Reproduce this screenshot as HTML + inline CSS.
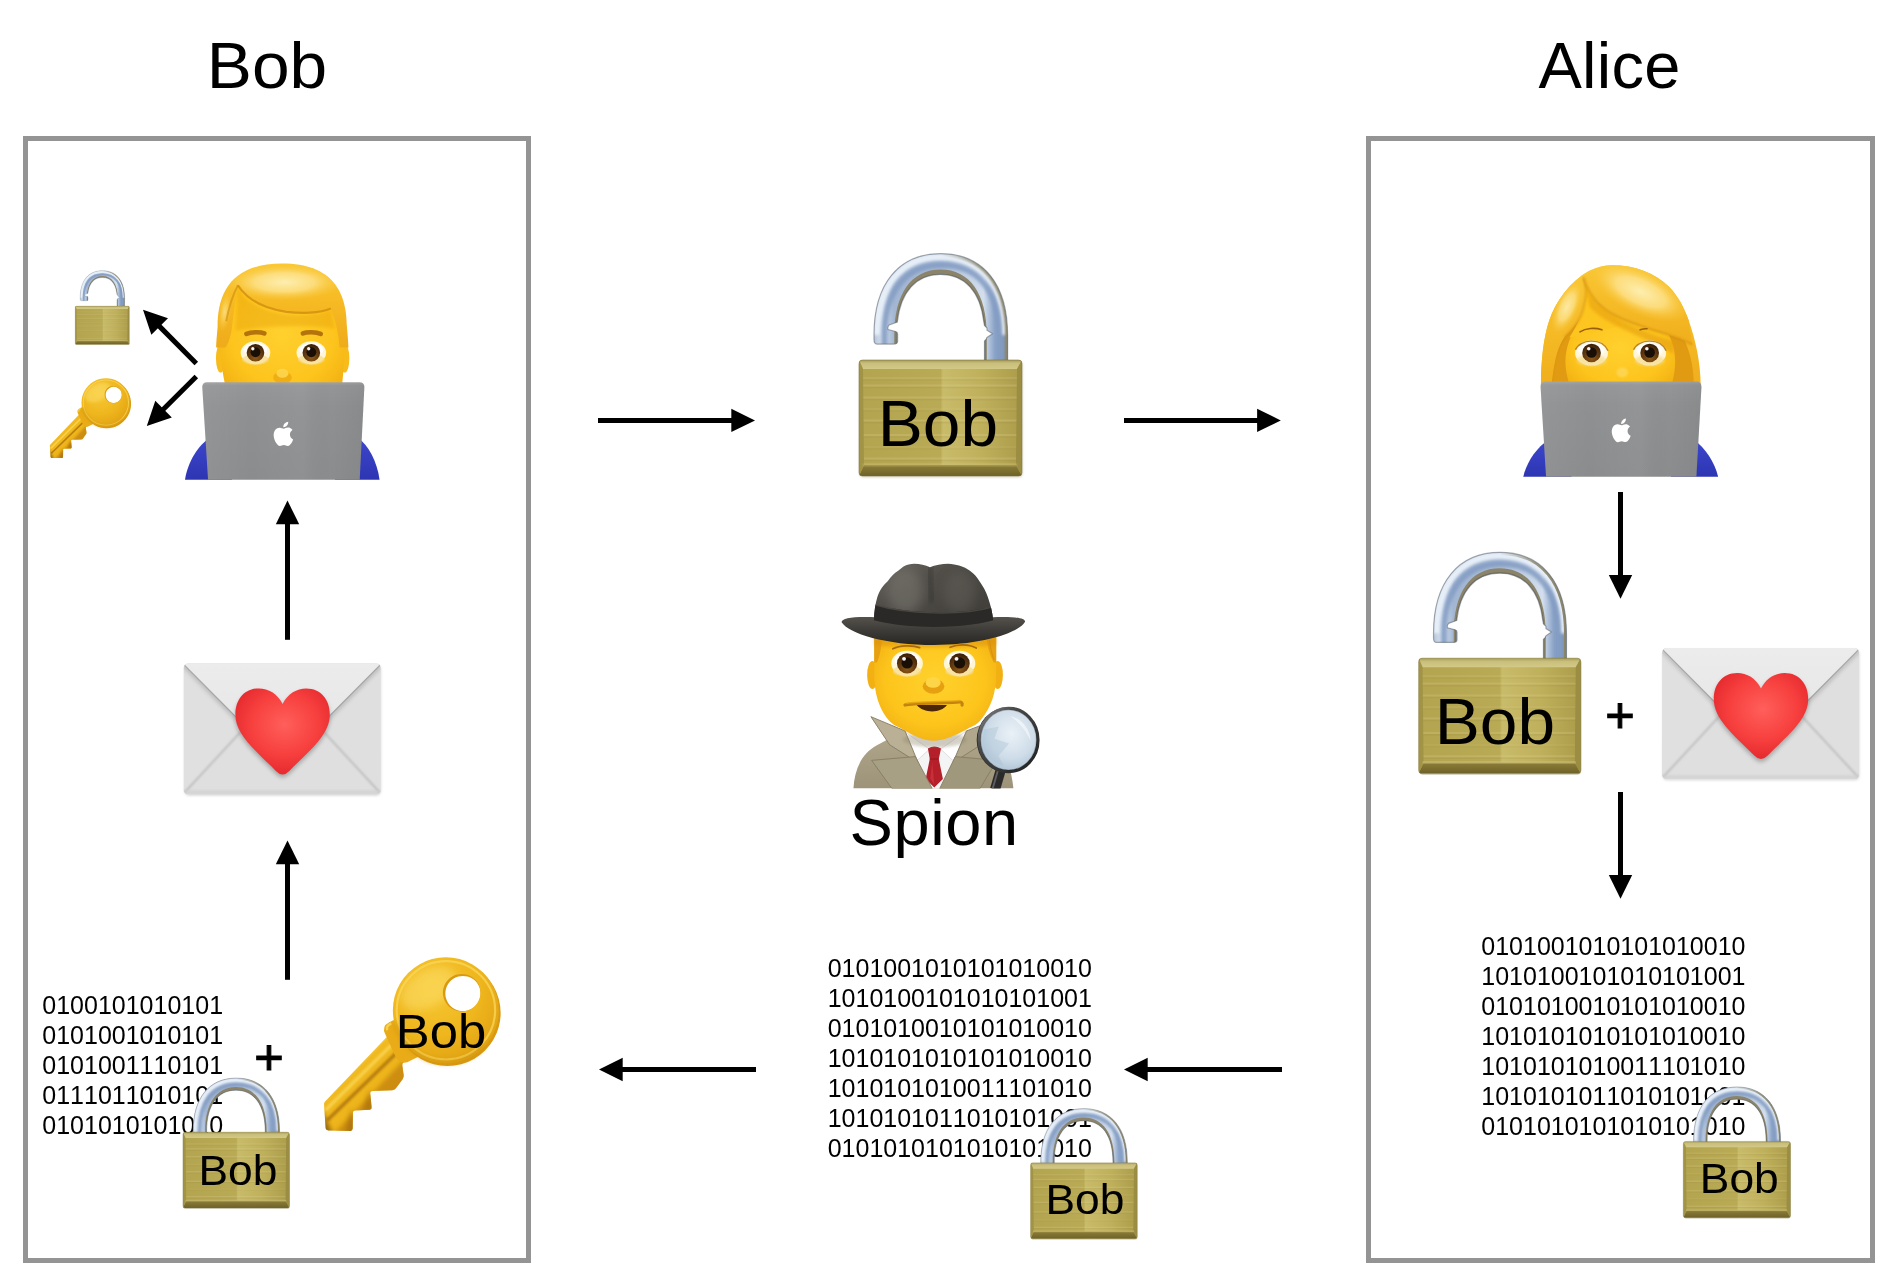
<!DOCTYPE html>
<html lang="de"><head><meta charset="utf-8"><title>Bob, Alice, Spion</title>
<style>
html,body{margin:0;padding:0;background:#fff;}
body{width:1898px;height:1280px;overflow:hidden;font-family:'Liberation Sans', Arial, Helvetica, sans-serif;}
svg{display:block;will-change:transform;}
svg text{font-family:'Liberation Sans', Arial, Helvetica, sans-serif;fill:#000;font-kerning:none;}
</style></head><body>
<svg width="1898" height="1280" viewBox="0 0 1898 1280">
<defs>

<linearGradient id="lkBody" x1="0" y1="0" x2="1" y2="0">
 <stop offset="0" stop-color="#b3a44f"/><stop offset="0.5" stop-color="#b9aa55"/>
 <stop offset="0.515" stop-color="#c8bb69"/><stop offset="0.75" stop-color="#bfb05c"/><stop offset="1" stop-color="#ab9c4a"/>
</linearGradient>
<linearGradient id="lkTop" x1="0" y1="0" x2="0" y2="1">
 <stop offset="0" stop-color="#a39a5c"/><stop offset="0.35" stop-color="#c9be7a"/><stop offset="1" stop-color="#d3c988"/>
</linearGradient>
<linearGradient id="lkBot" x1="0" y1="0" x2="0" y2="1">
 <stop offset="0" stop-color="#8c7e38"/><stop offset="1" stop-color="#6e6128"/>
</linearGradient>
<linearGradient id="lkSh" x1="0" y1="0" x2="1" y2="0">
 <stop offset="0" stop-color="#b4c3d8"/><stop offset="0.06" stop-color="#dbe5f1"/><stop offset="0.15" stop-color="#a3b7d3"/>
 <stop offset="0.5" stop-color="#a9bcd7"/><stop offset="0.82" stop-color="#d3dfee"/><stop offset="0.9" stop-color="#8ea6c9"/><stop offset="1" stop-color="#7b93b6"/>
</linearGradient>
<linearGradient id="lkEdge" x1="0" y1="0" x2="1" y2="0">
 <stop offset="0" stop-color="#8a8468" stop-opacity="0"/><stop offset="0.55" stop-color="#8a8468" stop-opacity=".85"/><stop offset="1" stop-color="#8a8468" stop-opacity="1"/>
</linearGradient>
<filter id="lkBl" x="-20%" y="-20%" width="140%" height="140%"><feGaussianBlur stdDeviation="1.6"/></filter>
<filter id="lkBl3" x="-20%" y="-20%" width="140%" height="140%"><feGaussianBlur stdDeviation="0.5"/></filter>
<filter id="lkBl2" x="-20%" y="-20%" width="140%" height="140%"><feGaussianBlur stdDeviation="0.8"/></filter>


<radialGradient id="skin" cx="0.5" cy="0.55" r="0.6">
 <stop offset="0" stop-color="#ffd02e"/><stop offset="0.7" stop-color="#fdc41d"/><stop offset="1" stop-color="#f3b313"/>
</radialGradient>
<linearGradient id="hairM" x1="0" y1="0" x2="0" y2="1">
 <stop offset="0" stop-color="#fac832"/><stop offset="0.45" stop-color="#f6ba24"/><stop offset="1" stop-color="#efab1a"/>
</linearGradient>
<linearGradient id="hairW" x1="0" y1="0" x2="0" y2="1">
 <stop offset="0" stop-color="#f9c735"/><stop offset="0.45" stop-color="#f6bc28"/><stop offset="1" stop-color="#f0ae1c"/>
</linearGradient>
<radialGradient id="hairHiW" cx="0.5" cy="0.5" r="0.5">
 <stop offset="0" stop-color="#fdeaa2" stop-opacity="1"/><stop offset="0.4" stop-color="#fcdc6e" stop-opacity=".8"/><stop offset="1" stop-color="#f9c73a" stop-opacity="0"/>
</radialGradient>
<radialGradient id="hairHiM" cx="0.5" cy="0.5" r="0.5">
 <stop offset="0" stop-color="#fdeeb0" stop-opacity="1"/><stop offset="0.5" stop-color="#fde28a" stop-opacity=".85"/><stop offset="1" stop-color="#f9c73a" stop-opacity="0"/>
</radialGradient>
<radialGradient id="hairHi" cx="0.5" cy="0.5" r="0.5">
 <stop offset="0" stop-color="#fbd45a" stop-opacity=".95"/><stop offset="1" stop-color="#f9c73a" stop-opacity="0"/>
</radialGradient>
<linearGradient id="lapG" x1="0" y1="0" x2="0" y2="1">
 <stop offset="0" stop-color="#a2a3a4"/><stop offset="0.035" stop-color="#949596"/><stop offset="0.25" stop-color="#8f9091"/><stop offset="1" stop-color="#8b8c8d"/>
</linearGradient>
<linearGradient id="lapS" x1="0" y1="0" x2="1" y2="0">
 <stop offset="0" stop-color="#fff" stop-opacity=".05"/><stop offset="0.3" stop-color="#fff" stop-opacity="0"/><stop offset="0.62" stop-color="#fff" stop-opacity=".04"/><stop offset="0.8" stop-color="#000" stop-opacity=".0"/><stop offset="1" stop-color="#000" stop-opacity=".04"/>
</linearGradient>
<linearGradient id="shirtB" x1="0" y1="0" x2="0" y2="1">
 <stop offset="0" stop-color="#3d47cc"/><stop offset="1" stop-color="#2d35b2"/>
</linearGradient>
<radialGradient id="irisG" cx="0.5" cy="0.78" r="0.75">
 <stop offset="0" stop-color="#8f5a18"/><stop offset="0.45" stop-color="#6a3f11"/><stop offset="1" stop-color="#3a2009"/>
</radialGradient>
<filter id="pBl" x="-30%" y="-30%" width="160%" height="160%"><feGaussianBlur stdDeviation="9"/></filter>
<filter id="pBl2" x="-30%" y="-30%" width="160%" height="160%"><feGaussianBlur stdDeviation="4"/></filter>


<linearGradient id="envG" x1="0" y1="0" x2="0" y2="1">
 <stop offset="0" stop-color="#e8e8e8"/><stop offset="0.5" stop-color="#e2e2e2"/><stop offset="1" stop-color="#dcdcdc"/>
</linearGradient>
<linearGradient id="envFlap" x1="0" y1="0" x2="0" y2="1">
 <stop offset="0" stop-color="#ececec"/><stop offset="1" stop-color="#e4e4e4"/>
</linearGradient>
<radialGradient id="heartG" cx="0.52" cy="0.42" r="0.62">
 <stop offset="0" stop-color="#ff5f5b"/><stop offset="0.55" stop-color="#f7413f"/><stop offset="1" stop-color="#e3262c"/>
</radialGradient>
<filter id="tBl" x="-30%" y="-30%" width="160%" height="160%"><feGaussianBlur stdDeviation="2.2"/></filter>
<filter id="tBl1" x="-30%" y="-30%" width="160%" height="160%"><feGaussianBlur stdDeviation="0.9"/></filter>
<filter id="tBl4" x="-30%" y="-30%" width="160%" height="160%"><feGaussianBlur stdDeviation="4"/></filter>
<linearGradient id="keyG" x1="0" y1="0" x2="1" y2="1">
 <stop offset="0" stop-color="#f6c52e"/><stop offset="0.5" stop-color="#eeb51c"/><stop offset="1" stop-color="#e0a214"/>
</linearGradient>
<radialGradient id="keyHead" cx="0.38" cy="0.3" r="0.8">
 <stop offset="0" stop-color="#f7c936"/><stop offset="0.55" stop-color="#efb61d"/><stop offset="1" stop-color="#dd9e12"/>
</radialGradient>


<radialGradient id="spSkin" cx="0.5" cy="0.45" r="0.62">
 <stop offset="0" stop-color="#ffd12c"/><stop offset="0.65" stop-color="#fdc51c"/><stop offset="1" stop-color="#f0ae12"/>
</radialGradient>
<linearGradient id="spCrown" x1="0" y1="0" x2="1" y2="1">
 <stop offset="0" stop-color="#6b6861"/><stop offset="0.35" stop-color="#514e49"/><stop offset="1" stop-color="#3c3a36"/>
</linearGradient>
<linearGradient id="spBrim" x1="0" y1="0" x2="0" y2="1">
 <stop offset="0" stop-color="#55524d"/><stop offset="0.45" stop-color="#3f3d39"/><stop offset="1" stop-color="#262523"/>
</linearGradient>
<linearGradient id="spCoat" x1="0" y1="0" x2="0" y2="1">
 <stop offset="0" stop-color="#b0a78c"/><stop offset="1" stop-color="#9c9378"/>
</linearGradient>
<radialGradient id="spGlass" cx="0.55" cy="0.4" r="0.65">
 <stop offset="0" stop-color="#eaf1f7"/><stop offset="0.6" stop-color="#cfdde9"/><stop offset="1" stop-color="#a9bfd2"/>
</radialGradient>
<linearGradient id="spRim" x1="0" y1="0" x2="1" y2="1">
 <stop offset="0" stop-color="#8a8a8a"/><stop offset="0.3" stop-color="#4a4a4a"/><stop offset="1" stop-color="#1f1f1f"/>
</linearGradient>
<filter id="sBl" x="-30%" y="-30%" width="160%" height="160%"><feGaussianBlur stdDeviation="8"/></filter>
 <filter id="sBl3" x="-50%" y="-50%" width="200%" height="200%"><feGaussianBlur stdDeviation="28"/></filter>
<clipPath id="spClip"><rect x="0" y="0" width="1200" height="1245"/></clipPath>
<filter id="sBl2" x="-30%" y="-30%" width="160%" height="160%"><feGaussianBlur stdDeviation="3.5"/></filter>

</defs>
<rect x="25.5" y="138.5" width="503" height="1122" fill="none" stroke="#949494" stroke-width="5"/>
<rect x="1368.5" y="138.5" width="504" height="1122" fill="none" stroke="#949494" stroke-width="5"/>
<text transform="translate(206.85,87.7) scale(1.041,1)" x="0" y="0" font-size="65">Bob</text>
<text x="1538.4" y="87.7" font-size="65" text-anchor="start" letter-spacing="0.3">Alice</text>
<text x="849.5" y="845.3" font-size="65" text-anchor="start" letter-spacing="0.6">Spion</text>
<line x1="598.00" y1="420.40" x2="733.30" y2="420.40" stroke="#000" stroke-width="5"/>
<polygon points="755.00,420.40 731.30,432.10 731.30,408.70" fill="#000"/>
<line x1="1124.00" y1="420.40" x2="1259.10" y2="420.40" stroke="#000" stroke-width="5"/>
<polygon points="1280.80,420.40 1257.10,432.10 1257.10,408.70" fill="#000"/>
<line x1="756.00" y1="1069.50" x2="620.70" y2="1069.50" stroke="#000" stroke-width="5"/>
<polygon points="599.00,1069.50 622.70,1057.80 622.70,1081.20" fill="#000"/>
<line x1="1282.00" y1="1069.50" x2="1145.70" y2="1069.50" stroke="#000" stroke-width="5"/>
<polygon points="1124.00,1069.50 1147.70,1057.80 1147.70,1081.20" fill="#000"/>
<line x1="287.50" y1="639.80" x2="287.50" y2="522.30" stroke="#000" stroke-width="5"/>
<polygon points="287.50,500.60 299.20,524.30 275.80,524.30" fill="#000"/>
<line x1="287.50" y1="979.80" x2="287.50" y2="862.30" stroke="#000" stroke-width="5"/>
<polygon points="287.50,840.60 299.20,864.30 275.80,864.30" fill="#000"/>
<line x1="1620.50" y1="492.00" x2="1620.50" y2="577.10" stroke="#000" stroke-width="5"/>
<polygon points="1620.50,598.80 1608.80,575.10 1632.20,575.10" fill="#000"/>
<line x1="1620.50" y1="792.00" x2="1620.50" y2="877.10" stroke="#000" stroke-width="5"/>
<polygon points="1620.50,898.80 1608.80,875.10 1632.20,875.10" fill="#000"/>
<line x1="196.30" y1="363.60" x2="158.26" y2="325.13" stroke="#000" stroke-width="5"/>
<polygon points="143.00,309.70 167.98,318.33 151.35,334.78" fill="#000"/>
<line x1="196.30" y1="376.40" x2="162.14" y2="410.56" stroke="#000" stroke-width="5"/>
<polygon points="146.80,425.90 155.29,400.87 171.83,417.41" fill="#000"/>
<text x="1481.3" y="955" font-size="25" text-anchor="start" >0101001010101010010</text>
<text x="827.7" y="977.4" font-size="25" text-anchor="start" >0101001010101010010</text>
<text x="1481.3" y="985" font-size="25" text-anchor="start" >1010100101010101001</text>
<text x="827.7" y="1007.4" font-size="25" text-anchor="start" >1010100101010101001</text>
<text x="1481.3" y="1015" font-size="25" text-anchor="start" >0101010010101010010</text>
<text x="827.7" y="1037.4" font-size="25" text-anchor="start" >0101010010101010010</text>
<text x="1481.3" y="1045" font-size="25" text-anchor="start" >1010101010101010010</text>
<text x="827.7" y="1067.4" font-size="25" text-anchor="start" >1010101010101010010</text>
<text x="1481.3" y="1075" font-size="25" text-anchor="start" >1010101010011101010</text>
<text x="827.7" y="1097.4" font-size="25" text-anchor="start" >1010101010011101010</text>
<text x="1481.3" y="1105" font-size="25" text-anchor="start" >1010101011010101001</text>
<text x="827.7" y="1127.4" font-size="25" text-anchor="start" >1010101011010101001</text>
<text x="1481.3" y="1135" font-size="25" text-anchor="start" >0101010101010101010</text>
<text x="827.7" y="1157.4" font-size="25" text-anchor="start" >0101010101010101010</text>
<text x="42.3" y="1014" font-size="25" text-anchor="start" >0100101010101</text>
<text x="42.3" y="1044" font-size="25" text-anchor="start" >0101001010101</text>
<text x="42.3" y="1074" font-size="25" text-anchor="start" >0101001110101</text>
<text x="42.3" y="1104" font-size="25" text-anchor="start" >0111011010101</text>
<text x="42.3" y="1134" font-size="25" text-anchor="start" >0101010101010</text>
<text x="1620" y="731.6" font-size="50.5" text-anchor="middle" stroke="#000" stroke-width="1.1">+</text>
<text x="269" y="1073.6" font-size="50.5" text-anchor="middle" stroke="#000" stroke-width="1.1">+</text>
<g transform="translate(170,250) scale(0.18745)">
<path d="M 215,1000 C 150,1040 95,1130 80,1225 L 330,1225 L 330,1000 Z" fill="url(#shirtB)"/>
<path d="M 1000,1000 C 1060,1040 1105,1130 1118,1225 L 880,1225 L 880,1000 Z" fill="url(#shirtB)"/>
<ellipse cx="270" cy="578" rx="25" ry="76" fill="#f7bb1a"/>
<ellipse cx="932" cy="578" rx="25" ry="76" fill="#f7bb1a"/>
<path d="M 300,740 C 274,650 268,540 266,410 C 262,230 330,76 598,76 C 868,76 936,230 932,410 C 930,540 928,650 916,740 Z" fill="url(#skin)"/>
<path d="M 365,215 C 420,290 520,335 640,345 C 740,352 820,340 858,318 L 880,420 C 780,400 560,400 350,430 Z" fill="#e9a60f" opacity=".45" filter="url(#pBl)"/>
<path d="M 246,520 C 248,470 252,440 254,410 C 254,228 328,72 598,72 C 870,72 944,228 944,410 C 946,440 950,470 952,520 L 905,520 C 900,450 885,380 858,312 C 800,338 700,340 620,330 C 500,312 410,262 362,188 C 345,270 338,350 330,420 C 322,470 310,500 296,520 Z" fill="url(#hairM)"/>
<clipPath id="mhair"><path d="M 246,520 C 248,470 252,440 254,410 C 254,228 328,72 598,72 C 870,72 944,228 944,410 C 946,440 950,470 952,520 L 905,520 C 900,450 885,380 858,312 C 800,338 700,340 620,330 C 500,312 410,262 362,188 C 345,270 338,350 330,420 C 322,470 310,500 296,520 Z"/></clipPath>
<g clip-path="url(#mhair)">
<ellipse cx="610" cy="172" rx="320" ry="100" fill="url(#hairHiM)"/>
<ellipse cx="292" cy="330" rx="34" ry="110" fill="url(#hairHiW)" opacity=".7" transform="rotate(8 292 330)"/>
</g>
<path d="M 362,188 C 410,262 500,312 620,330 C 700,340 800,338 858,312" fill="none" stroke="#cf8a0c" stroke-width="12" opacity=".75" filter="url(#pBl2)"/>
<path d="M 362,188 C 340,230 315,300 300,380" fill="none" stroke="#cf8a0c" stroke-width="10" opacity=".6" filter="url(#pBl2)"/>
<path d="M 408,447 C 432,437 482,436 503,445" fill="none" stroke="#b5730c" stroke-width="25" stroke-linecap="round"/>
<path d="M 709,445 C 730,436 780,437 804,447" fill="none" stroke="#b5730c" stroke-width="25" stroke-linecap="round"/>
<ellipse cx="456" cy="548" rx="79" ry="61" fill="#fff6d8"/>
<ellipse cx="456" cy="532.75" rx="63.2" ry="36.6" fill="#ffffff" opacity=".9" filter="url(#pBl2)"/>
<ellipse cx="456" cy="584.6" rx="71.10000000000001" ry="27.45" fill="#f6dc8c" opacity=".7" filter="url(#pBl2)"/>
<circle cx="456" cy="548" r="47" fill="url(#irisG)"/>
<circle cx="456" cy="545.6" r="26.3" fill="#1a0f06"/>
<circle cx="441.9" cy="526.9" r="8.9" fill="#fff" opacity=".95"/>
<ellipse cx="754" cy="548" rx="79" ry="61" fill="#fff6d8"/>
<ellipse cx="754" cy="532.75" rx="63.2" ry="36.6" fill="#ffffff" opacity=".9" filter="url(#pBl2)"/>
<ellipse cx="754" cy="584.6" rx="71.10000000000001" ry="27.45" fill="#f6dc8c" opacity=".7" filter="url(#pBl2)"/>
<circle cx="754" cy="548" r="47" fill="url(#irisG)"/>
<circle cx="754" cy="545.6" r="26.3" fill="#1a0f06"/>
<circle cx="739.9" cy="526.9" r="8.9" fill="#fff" opacity=".95"/>
<ellipse cx="600" cy="680" rx="50" ry="34" fill="#eda511" opacity=".7" filter="url(#pBl2)"/>
<ellipse cx="600" cy="658" rx="32" ry="24" fill="#ffd650" opacity=".9" filter="url(#pBl2)"/>
<path d="M172,731 Q172,705 198,705 L1011,705 Q1037,705 1037,731 L1012,1225 L203,1225 Z" fill="url(#lapG)"/>
<path d="M172,731 Q172,705 198,705 L1011,705 Q1037,705 1037,731 L1012,1225 L203,1225 Z" fill="url(#lapS)"/>
<path transform="translate(564.84,915.89) scale(84.553)" d="M 0.70,0.245 C 0.755,0.18 0.79,0.09 0.78,0 C 0.70,0.005 0.605,0.055 0.55,0.12 C 0.50,0.18 0.455,0.27 0.47,0.355 C 0.555,0.36 0.645,0.31 0.70,0.245 Z M 0.785,0.37 C 0.66,0.36 0.555,0.44 0.495,0.44 C 0.435,0.44 0.34,0.375 0.24,0.377 C 0.11,0.38 -0.01,0.455 -0.075,0.57 C -0.21,0.805 -0.11,1.15 0.02,1.34 C 0.085,1.435 0.16,1.54 0.26,1.535 C 0.355,1.53 0.39,1.475 0.505,1.475 C 0.62,1.475 0.65,1.535 0.75,1.533 C 0.855,1.53 0.92,1.44 0.985,1.345 C 1.06,1.235 1.09,1.13 1.092,1.125 C 1.09,1.123 0.89,1.047 0.888,0.815 C 0.886,0.62 1.046,0.527 1.053,0.523 C 0.963,0.39 0.822,0.375 0.785,0.37 Z" fill="#fff"/>
</g>
<g transform="translate(1480,240) scale(0.20319)">
<path d="M 335,985 C 280,1020 230,1090 213,1165 L 450,1165 L 450,985 Z" fill="url(#shirtB)"/>
<path d="M 1055,985 C 1105,1020 1155,1090 1172,1165 L 940,1165 L 940,985 Z" fill="url(#shirtB)"/>
<path d="M 300,720 C 300,600 312,480 341,395 C 372,305 440,205 540,150 C 575,132 612,124 650,124 C 760,124 860,160 930,230 C 975,275 1005,335 1027,395 C 1060,490 1086,600 1086,720 Z" fill="url(#hairW)"/>
<path d="M 352,720 C 354,620 372,540 416,476 L 560,300 L 1000,480 C 1040,560 1052,640 1052,720 Z" fill="#e19b13"/>
<path d="M 352,720 C 354,620 372,540 416,476" fill="none" stroke="#c98509" stroke-width="8" opacity=".45" filter="url(#pBl2)"/>
<path d="M 445,720 C 420,655 412,590 430,525 C 450,450 500,380 560,340 L 700,300 C 830,330 925,420 950,520 C 968,590 962,650 940,720 Z" fill="url(#skin)"/>
<path d="M 511,185 C 530,260 580,320 635,355 L 700,420 L 440,480 C 480,420 515,330 520,280 Z" fill="#fdc51f"/>
<path d="M 520,230 C 560,330 700,420 960,500 L 950,560 C 800,470 620,420 540,330 Z" fill="#e39c0c" opacity=".55" filter="url(#pBl)"/>
<path d="M 511,185 C 522,230 524,255 520,280 C 515,315 508,345 497,372 C 485,400 470,420 451,441 C 440,455 428,466 416,476 C 385,520 365,590 352,720 L 300,720 C 300,600 312,480 341,395 C 372,305 440,205 540,150 Z" fill="url(#hairW)"/>
<path d="M 511,185 C 522,230 524,255 520,280 C 515,315 508,345 497,372 C 485,400 470,420 451,441 C 440,455 428,466 416,476" fill="none" stroke="#d28c0c" stroke-width="9" opacity=".6" filter="url(#pBl2)"/>
<path d="M 511,185 C 530,260 580,320 635,355 C 700,395 800,430 918,464 C 960,476 1000,492 1045,515 C 1038,470 1032,430 1027,395 C 1005,335 975,275 930,230 C 860,160 760,124 650,124 C 600,124 548,145 511,185 Z" fill="url(#hairW)"/>
<path d="M 511,185 C 530,260 580,320 635,355 C 700,395 800,430 918,464 C 960,476 1000,492 1045,515" fill="none" stroke="#d28c0c" stroke-width="10" opacity=".65" filter="url(#pBl2)"/>
<clipPath id="wfr"><path d="M 511,185 C 530,260 580,320 635,355 C 700,395 800,430 918,464 C 960,476 1000,492 1045,515 C 1038,470 1032,430 1027,395 C 1005,335 975,275 930,230 C 860,160 760,124 650,124 C 600,124 548,145 511,185 Z"/></clipPath>
<g clip-path="url(#wfr)"><ellipse cx="790" cy="255" rx="260" ry="112" fill="url(#hairHiM)" transform="rotate(25 790 255)"/></g>
<clipPath id="wlk"><path d="M 511,185 C 522,230 524,255 520,280 C 515,315 508,345 497,372 C 485,400 470,420 451,441 C 440,455 428,466 416,476 C 385,520 365,590 352,720 L 300,720 C 300,600 312,480 341,395 C 372,305 440,205 540,150 Z"/></clipPath>
<g clip-path="url(#wlk)"><ellipse cx="428" cy="330" rx="58" ry="140" fill="url(#hairHiM)" transform="rotate(24 428 330)" opacity=".9"/></g>
<path d="M 492,452 C 520,434 565,430 600,442" fill="none" stroke="#9a5f0c" stroke-width="8" stroke-linecap="round"/>
<path d="M 788,442 C 800,438 812,436 822,437" fill="none" stroke="#9a5f0c" stroke-width="8" stroke-linecap="round"/>
<ellipse cx="549" cy="556" rx="81" ry="62" fill="#fff6d8"/>
<ellipse cx="549" cy="540.5" rx="64.8" ry="37.199999999999996" fill="#ffffff" opacity=".9" filter="url(#pBl2)"/>
<ellipse cx="549" cy="593.2" rx="72.9" ry="27.900000000000002" fill="#f6dc8c" opacity=".7" filter="url(#pBl2)"/>
<circle cx="549" cy="556" r="46" fill="url(#irisG)"/>
<circle cx="549" cy="553.7" r="25.8" fill="#1a0f06"/>
<circle cx="535.2" cy="535.3" r="8.7" fill="#fff" opacity=".95"/>
<ellipse cx="835" cy="556" rx="81" ry="62" fill="#fff6d8"/>
<ellipse cx="835" cy="540.5" rx="64.8" ry="37.199999999999996" fill="#ffffff" opacity=".9" filter="url(#pBl2)"/>
<ellipse cx="835" cy="593.2" rx="72.9" ry="27.900000000000002" fill="#f6dc8c" opacity=".7" filter="url(#pBl2)"/>
<circle cx="835" cy="556" r="46" fill="url(#irisG)"/>
<circle cx="835" cy="553.7" r="25.8" fill="#1a0f06"/>
<circle cx="821.2" cy="535.3" r="8.7" fill="#fff" opacity=".95"/>
<path d="M 470,540 C 490,488 600,478 630,545" fill="none" stroke="#a5690e" stroke-width="7" opacity=".8"/>
<path d="M 756,540 C 776,488 886,478 916,545" fill="none" stroke="#a5690e" stroke-width="7" opacity=".8"/>
<ellipse cx="700" cy="652" rx="28" ry="24" fill="#ffd85a" opacity=".8" filter="url(#pBl2)"/>
<path d="M298,723 Q298,697 324,697 L1064,697 Q1090,697 1090,723 L1065,1165 L325,1165 Z" fill="url(#lapG)"/>
<path d="M298,723 Q298,697 324,697 L1064,697 Q1090,697 1090,723 L1065,1165 L325,1165 Z" fill="url(#lapS)"/>
<path transform="translate(659.09,878.78) scale(75.610)" d="M 0.70,0.245 C 0.755,0.18 0.79,0.09 0.78,0 C 0.70,0.005 0.605,0.055 0.55,0.12 C 0.50,0.18 0.455,0.27 0.47,0.355 C 0.555,0.36 0.645,0.31 0.70,0.245 Z M 0.785,0.37 C 0.66,0.36 0.555,0.44 0.495,0.44 C 0.435,0.44 0.34,0.375 0.24,0.377 C 0.11,0.38 -0.01,0.455 -0.075,0.57 C -0.21,0.805 -0.11,1.15 0.02,1.34 C 0.085,1.435 0.16,1.54 0.26,1.535 C 0.355,1.53 0.39,1.475 0.505,1.475 C 0.62,1.475 0.65,1.535 0.75,1.533 C 0.855,1.53 0.92,1.44 0.985,1.345 C 1.06,1.235 1.09,1.13 1.092,1.125 C 1.09,1.123 0.89,1.047 0.888,0.815 C 0.886,0.62 1.046,0.527 1.053,0.523 C 0.963,0.39 0.822,0.375 0.785,0.37 Z" fill="#fff"/>
</g>
<g transform="translate(830,555) scale(0.18755)" clip-path="url(#spClip)">
<path d="M 125,1245 C 130,1150 165,1060 250,1015 L 400,935 L 730,935 L 865,1005 C 935,1045 968,1140 978,1245 Z" fill="url(#spCoat)"/>
<path d="M 395,935 L 730,935 L 670,1110 L 600,1245 L 510,1245 L 450,1110 Z" fill="#f4f4f4"/>
<path d="M 395,940 L 530,1035 L 455,1105 Z" fill="#fff" stroke="#d5d5d5" stroke-width="4"/>
<path d="M 725,940 L 590,1035 L 660,1100 Z" fill="#fff" stroke="#d5d5d5" stroke-width="4"/>
<path d="M 522,1032 Q 556,1010 592,1032 L 580,1088 L 602,1195 L 556,1240 L 510,1195 L 532,1088 Z" fill="#b51f2a"/>
<path d="M 532,1088 L 580,1088" stroke="#8c1520" stroke-width="5"/>
<path d="M 545,1100 L 535,1190 L 556,1225 Z" fill="#d43a44" opacity=".6"/>
<path d="M 218,862 L 400,938 L 470,1108 L 318,1012 Z" fill="#b9b095" stroke="#877e63" stroke-width="5" stroke-linejoin="round"/>
<path d="M 222,1095 L 455,1075 L 545,1245 L 330,1245 Z" fill="#a8a084" stroke="#877e63" stroke-width="5" stroke-linejoin="round"/>
<path d="M 905,870 L 728,938 L 655,1108 L 800,1015 Z" fill="#b0a78c" stroke="#877e63" stroke-width="5" stroke-linejoin="round"/>
<path d="M 890,1095 L 668,1075 L 585,1245 L 800,1245 Z" fill="#a0987c" stroke="#877e63" stroke-width="5" stroke-linejoin="round"/>
<ellipse cx="560" cy="985" rx="170" ry="40" fill="#8a7e62" opacity=".35" filter="url(#sBl)"/>
<ellipse cx="226" cy="640" rx="28" ry="75" fill="#f2b013"/>
<ellipse cx="894" cy="640" rx="28" ry="75" fill="#f2b013"/>
<path d="M 236,400 L 236,640 C 236,740 262,812 301,867 C 328,903 352,912 384,928 C 440,962 500,991 552,991 C 604,991 672,962 732,928 C 764,912 790,903 814,867 C 855,812 886,740 886,640 L 886,400 Z" fill="url(#spSkin)"/>
<path d="M 236,420 L 280,420 C 276,480 268,530 252,570 L 236,575 Z" fill="#e6a012"/>
<path d="M 886,420 L 832,420 C 838,480 850,530 872,572 L 886,575 Z" fill="#e6a012"/>
<path d="M 850,440 C 854,490 862,530 876,560" fill="none" stroke="#c98509" stroke-width="5" opacity=".6"/>
<path d="M 236,430 L 886,430 L 886,480 C 700,500 420,500 236,480 Z" fill="#d98f0a" opacity=".45" filter="url(#sBl)"/>
<path d="M 335,500 C 372,482 440,480 478,494" fill="none" stroke="#a8690c" stroke-width="9" stroke-linecap="round"/>
<path d="M 640,492 C 682,474 740,474 780,496" fill="none" stroke="#a8690c" stroke-width="9" stroke-linecap="round"/>
<ellipse cx="411" cy="578" rx="84" ry="68" fill="#fff6d8"/>
<ellipse cx="411" cy="561.0" rx="67.2" ry="40.8" fill="#ffffff" opacity=".9" filter="url(#pBl2)"/>
<ellipse cx="411" cy="618.8" rx="75.60000000000001" ry="30.6" fill="#f6dc8c" opacity=".7" filter="url(#pBl2)"/>
<circle cx="411" cy="578" r="54" fill="url(#irisG)"/>
<circle cx="411" cy="575.3" r="30.2" fill="#1a0f06"/>
<circle cx="394.8" cy="553.7" r="10.3" fill="#fff" opacity=".95"/>
<ellipse cx="691" cy="578" rx="84" ry="68" fill="#fff6d8"/>
<ellipse cx="691" cy="561.0" rx="67.2" ry="40.8" fill="#ffffff" opacity=".9" filter="url(#pBl2)"/>
<ellipse cx="691" cy="618.8" rx="75.60000000000001" ry="30.6" fill="#f6dc8c" opacity=".7" filter="url(#pBl2)"/>
<circle cx="691" cy="578" r="54" fill="url(#irisG)"/>
<circle cx="691" cy="575.3" r="30.2" fill="#1a0f06"/>
<circle cx="674.8" cy="553.7" r="10.3" fill="#fff" opacity=".95"/>
<ellipse cx="552" cy="700" rx="58" ry="40" fill="#e59c0e" opacity=".9" filter="url(#sBl2)"/>
<ellipse cx="550" cy="680" rx="40" ry="28" fill="#ffd84c" opacity=".95" filter="url(#sBl2)"/>
<path d="M 462,800 C 500,846 590,846 624,800 Z" fill="#4a2606"/>
<path d="M 400,800 C 440,786 640,790 690,784 C 700,783 708,790 704,800" fill="none" stroke="#c5830f" stroke-width="17" stroke-linecap="round"/>
<path d="M 410,790 C 470,780 640,782 695,776" fill="none" stroke="#e9a915" stroke-width="8" stroke-linecap="round" opacity=".8"/>
<path d="M 62,358 C 60,336 130,326 245,332 L 865,332 C 975,326 1042,336 1040,356 C 1005,418 800,480 555,480 C 300,480 98,418 62,358 Z" fill="url(#spBrim)"/>
<path d="M 234,348 C 236,300 242,260 252,225 C 266,185 285,160 308,140 C 325,115 342,98 364,84 C 385,65 400,52 420,50 C 460,42 500,52 533,65 C 570,52 620,42 662,50 C 700,55 725,68 746,84 C 770,100 785,120 797,140 C 815,165 832,195 842,225 C 856,265 866,305 870,348 C 700,396 400,394 234,348 Z" fill="url(#spCrown)"/>
<clipPath id="spCr"><path d="M 234,348 C 236,300 242,260 252,225 C 266,185 285,160 308,140 C 325,115 342,98 364,84 C 385,65 400,52 420,50 C 460,42 500,52 533,65 C 570,52 620,42 662,50 C 700,55 725,68 746,84 C 770,100 785,120 797,140 C 815,165 832,195 842,225 C 856,265 866,305 870,348 C 700,396 400,394 234,348 Z"/></clipPath>
<g clip-path="url(#spCr)">
<path d="M 533,60 C 528,130 532,190 545,250" fill="none" stroke="#2f2d2a" stroke-width="40" opacity=".28" filter="url(#sBl)"/>
<ellipse cx="400" cy="190" rx="95" ry="120" fill="#7c7972" opacity=".55" filter="url(#sBl3)"/>
<ellipse cx="690" cy="200" rx="80" ry="110" fill="#6e6b64" opacity=".35" filter="url(#sBl3)"/>
<path d="M 236,262 C 400,312 700,322 866,274 L 872,350 C 700,398 400,396 232,350 Z" fill="#2b2927"/>
<path d="M 240,266 C 400,316 700,326 864,278" fill="none" stroke="#55524c" stroke-width="7" opacity=".7"/>
</g>
<path d="M 912,1140 L 880,1250" stroke="#2a2a2a" stroke-width="54" stroke-linecap="butt"/>
<path d="M 898,1140 L 866,1250" stroke="#777" stroke-width="10" opacity=".7"/>
<ellipse cx="942" cy="987" rx="160" ry="172" fill="#2c2c2c"/>
<ellipse cx="952" cy="986" rx="156" ry="168" fill="url(#spGlass)"/>
<path d="M 822,930 L 900,915 L 876,980 L 955,1005 L 898,1072 L 926,1122 C 858,1110 812,1050 812,990 Z" fill="#a9bfd1" opacity=".38" filter="url(#sBl2)"/>
<path d="M 962,860 C 1022,872 1064,925 1070,990 C 1044,936 1012,895 962,860 Z" fill="#fff" opacity=".55" filter="url(#sBl2)"/>
<ellipse cx="952" cy="986" rx="157" ry="169" fill="none" stroke="url(#spRim)" stroke-width="17"/>
<ellipse cx="952" cy="986" rx="148" ry="160" fill="none" stroke="#111" stroke-width="3" opacity=".35"/>
</g>
<g transform="translate(183.7,663.4)">
<rect x="0.5" y="1.5" width="197" height="131" rx="5" fill="#bdbdbd" opacity=".5" filter="url(#tBl1)"/>
<clipPath id="env1"><rect x="0" y="0" width="197" height="131" rx="4.5"/></clipPath>
<g clip-path="url(#env1)">
<rect x="0" y="0" width="197" height="131" fill="url(#envG)"/>
<polygon points="0,3 60,65 0,129" fill="#e0e0e0"/>
<polygon points="197,3 137,65 197,129" fill="#dfdfdf"/>
<polygon points="0,131 60,65 98.5,98 137,65 197,131" fill="#dfdfdf"/>
<path d="M 0.5,129.5 L 62,63" stroke="#b9b9b9" stroke-width="1.6" fill="none" filter="url(#tBl1)"/>
<path d="M 196.5,129.5 L 135,63" stroke="#b9b9b9" stroke-width="1.6" fill="none" filter="url(#tBl1)"/>
<path d="M 0,2 L 92,95 Q 98.5,101 105,95 L 197,2 L 197,-2 L 0,-2 Z" fill="#8f8f8f" opacity=".55" filter="url(#tBl)" transform="translate(0,2)"/>
<path d="M -1,0 L 92,93 Q 98.5,99 105,93 L 198,0 Z" fill="url(#envFlap)"/>
<path d="M 0,1 L 92,93.5 Q 98.5,99.5 105,93.5 L 197,1" stroke="#9c9c9c" stroke-width="1.2" fill="none" opacity=".8"/>
<rect x="0" y="127" width="197" height="4" fill="#cfcfcf" opacity=".7" filter="url(#tBl1)"/>
</g>
<g transform="translate(51.7,25.0)">
<path d="M 47.2,15.5 C 42,5 33,0 23.5,0 C 9,0 0,11 0,26 C 0,46 19,61 40.5,82.5 Q 47.2,89.5 53.9,82.5 C 75.4,61 94.4,46 94.4,26 C 94.4,11 85.4,0 70.9,0 C 61.4,0 52.4,5 47.2,15.5 Z" fill="#777" opacity=".55" filter="url(#tBl)" transform="translate(0,3)"/>
<path d="M 47.2,15.5 C 42,5 33,0 23.5,0 C 9,0 0,11 0,26 C 0,46 19,61 40.5,82.5 Q 47.2,89.5 53.9,82.5 C 75.4,61 94.4,46 94.4,26 C 94.4,11 85.4,0 70.9,0 C 61.4,0 52.4,5 47.2,15.5 Z" fill="url(#heartG)"/>
</g>
</g>
<g transform="translate(1662.1,648.1)">
<rect x="0.5" y="1.5" width="197" height="131" rx="5" fill="#bdbdbd" opacity=".5" filter="url(#tBl1)"/>
<clipPath id="env2"><rect x="0" y="0" width="197" height="131" rx="4.5"/></clipPath>
<g clip-path="url(#env2)">
<rect x="0" y="0" width="197" height="131" fill="url(#envG)"/>
<polygon points="0,3 60,65 0,129" fill="#e0e0e0"/>
<polygon points="197,3 137,65 197,129" fill="#dfdfdf"/>
<polygon points="0,131 60,65 98.5,98 137,65 197,131" fill="#dfdfdf"/>
<path d="M 0.5,129.5 L 62,63" stroke="#b9b9b9" stroke-width="1.6" fill="none" filter="url(#tBl1)"/>
<path d="M 196.5,129.5 L 135,63" stroke="#b9b9b9" stroke-width="1.6" fill="none" filter="url(#tBl1)"/>
<path d="M 0,2 L 92,95 Q 98.5,101 105,95 L 197,2 L 197,-2 L 0,-2 Z" fill="#8f8f8f" opacity=".55" filter="url(#tBl)" transform="translate(0,2)"/>
<path d="M -1,0 L 92,93 Q 98.5,99 105,93 L 198,0 Z" fill="url(#envFlap)"/>
<path d="M 0,1 L 92,93.5 Q 98.5,99.5 105,93.5 L 197,1" stroke="#9c9c9c" stroke-width="1.2" fill="none" opacity=".8"/>
<rect x="0" y="127" width="197" height="4" fill="#cfcfcf" opacity=".7" filter="url(#tBl1)"/>
</g>
<g transform="translate(51.7,25.0)">
<path d="M 47.2,15.5 C 42,5 33,0 23.5,0 C 9,0 0,11 0,26 C 0,46 19,61 40.5,82.5 Q 47.2,89.5 53.9,82.5 C 75.4,61 94.4,46 94.4,26 C 94.4,11 85.4,0 70.9,0 C 61.4,0 52.4,5 47.2,15.5 Z" fill="#777" opacity=".55" filter="url(#tBl)" transform="translate(0,3)"/>
<path d="M 47.2,15.5 C 42,5 33,0 23.5,0 C 9,0 0,11 0,26 C 0,46 19,61 40.5,82.5 Q 47.2,89.5 53.9,82.5 C 75.4,61 94.4,46 94.4,26 C 94.4,11 85.4,0 70.9,0 C 61.4,0 52.4,5 47.2,15.5 Z" fill="url(#heartG)"/>
</g>
</g>
<g transform="translate(323.3,958.3) scale(1.0000)">
<path d="M 70,72 L 1.5,143.5 Q 0.3,145 0.8,147 L 2.3,170 Q 2.6,172 5,172.2 L 27.5,172.6 Q 29.3,172.4 29.4,170 L 29.7,154 Q 29.8,152.3 32,152.2 L 46.5,151.5 Q 48.5,151.3 48.3,149 L 47,135 Q 46.9,132.8 49.5,132.7 L 69,132 Q 71.5,131.8 72.8,129.8 L 79.3,121 Q 80.6,119.3 80.4,117 L 79,107 Q 78.8,105 80.5,104 L 100,94 Z" fill="url(#keyG)"/>
<clipPath id="ky3"><path d="M 70,72 L 1.5,143.5 Q 0.3,145 0.8,147 L 2.3,170 Q 2.6,172 5,172.2 L 27.5,172.6 Q 29.3,172.4 29.4,170 L 29.7,154 Q 29.8,152.3 32,152.2 L 46.5,151.5 Q 48.5,151.3 48.3,149 L 47,135 Q 46.9,132.8 49.5,132.7 L 69,132 Q 71.5,131.8 72.8,129.8 L 79.3,121 Q 80.6,119.3 80.4,117 L 79,107 Q 78.8,105 80.5,104 L 100,94 Z"/></clipPath>
<g clip-path="url(#ky3)">
<path d="M 84,98 L 8,178 L 40,182 L 100,112 Z" fill="#c07f0a" opacity=".7" filter="url(#tBl)"/>
<path d="M 78,90 L 4,162" stroke="#a96f08" stroke-width="3.5" opacity=".8" filter="url(#tBl1)"/>
<path d="M 72,83 L 2,152" stroke="#fbd95a" stroke-width="3.5" opacity=".75" filter="url(#tBl1)"/>
<path d="M 66,75 L 0,142" stroke="#fbe07a" stroke-width="3" opacity=".6" filter="url(#tBl1)"/>
<path d="M -2,150 L 10,176 L -2,176 Z" fill="#7a4d08" opacity=".7" filter="url(#tBl)"/>
<path d="M 28,150 L 32,175 L 22,175 Z" fill="#8a5a0a" opacity=".45" filter="url(#tBl)"/>
<path d="M 46,131 L 50,153 L 40,153 Z" fill="#8a5a0a" opacity=".4" filter="url(#tBl)"/>
</g>
<path d="M 62,76 Q 58,68 66,64 L 78,58 L 96,98 L 84,104 Q 76,106 72,98 Z" fill="#e9ac18"/>
<path d="M 64,72 Q 62,68 68,65" stroke="#fbd95a" stroke-width="2.5" fill="none" opacity=".8"/>
<path d="M 124.2,1.4 A 53.2,53.2 0 1 1 124.1,1.4 Z M 139.6,17.6 A 17.6,17.6 0 1 0 139.7,17.6 Z" fill="#d99a10" fill-rule="evenodd"/>
<path d="M 122.6,-1.0 A 53,53 0 1 1 122.5,-1.0 Z M 138.3,15.6 A 18.8,18.8 0 1 0 138.4,15.6 Z" fill="url(#keyHead)" fill-rule="evenodd"/>
<circle cx="122.6" cy="52" r="49.2" fill="none" stroke="#fad75a" stroke-width="2.2" opacity=".75"/>
<path d="M 72,64 A 52,52 0 0 0 160,88" fill="none" stroke="#cf920f" stroke-width="5" opacity=".45" filter="url(#tBl)"/>
<clipPath id="kh3"><path d="M 122.6,-1.0 A 53,53 0 1 1 122.5,-1.0 Z M 138.3,15.6 A 18.8,18.8 0 1 0 138.4,15.6 Z" clip-rule="evenodd"/></clipPath>
<g clip-path="url(#kh3)"><ellipse cx="105" cy="30" rx="30" ry="18" fill="#fbdc66" opacity=".55" filter="url(#tBl4)" transform="rotate(-30 105 30)"/></g>
</g>
<text transform="translate(395.86,1048.1) scale(1.041,1)" x="0" y="0" font-size="48.8">Bob</text>
<g transform="translate(49.5,378.7) scale(0.4600)">
<path d="M 70,72 L 1.5,143.5 Q 0.3,145 0.8,147 L 2.3,170 Q 2.6,172 5,172.2 L 27.5,172.6 Q 29.3,172.4 29.4,170 L 29.7,154 Q 29.8,152.3 32,152.2 L 46.5,151.5 Q 48.5,151.3 48.3,149 L 47,135 Q 46.9,132.8 49.5,132.7 L 69,132 Q 71.5,131.8 72.8,129.8 L 79.3,121 Q 80.6,119.3 80.4,117 L 79,107 Q 78.8,105 80.5,104 L 100,94 Z" fill="url(#keyG)"/>
<clipPath id="ky4"><path d="M 70,72 L 1.5,143.5 Q 0.3,145 0.8,147 L 2.3,170 Q 2.6,172 5,172.2 L 27.5,172.6 Q 29.3,172.4 29.4,170 L 29.7,154 Q 29.8,152.3 32,152.2 L 46.5,151.5 Q 48.5,151.3 48.3,149 L 47,135 Q 46.9,132.8 49.5,132.7 L 69,132 Q 71.5,131.8 72.8,129.8 L 79.3,121 Q 80.6,119.3 80.4,117 L 79,107 Q 78.8,105 80.5,104 L 100,94 Z"/></clipPath>
<g clip-path="url(#ky4)">
<path d="M 84,98 L 8,178 L 40,182 L 100,112 Z" fill="#c07f0a" opacity=".7" filter="url(#tBl)"/>
<path d="M 78,90 L 4,162" stroke="#a96f08" stroke-width="3.5" opacity=".8" filter="url(#tBl1)"/>
<path d="M 72,83 L 2,152" stroke="#fbd95a" stroke-width="3.5" opacity=".75" filter="url(#tBl1)"/>
<path d="M 66,75 L 0,142" stroke="#fbe07a" stroke-width="3" opacity=".6" filter="url(#tBl1)"/>
<path d="M -2,150 L 10,176 L -2,176 Z" fill="#7a4d08" opacity=".7" filter="url(#tBl)"/>
<path d="M 28,150 L 32,175 L 22,175 Z" fill="#8a5a0a" opacity=".45" filter="url(#tBl)"/>
<path d="M 46,131 L 50,153 L 40,153 Z" fill="#8a5a0a" opacity=".4" filter="url(#tBl)"/>
</g>
<path d="M 62,76 Q 58,68 66,64 L 78,58 L 96,98 L 84,104 Q 76,106 72,98 Z" fill="#e9ac18"/>
<path d="M 64,72 Q 62,68 68,65" stroke="#fbd95a" stroke-width="2.5" fill="none" opacity=".8"/>
<path d="M 124.2,1.4 A 53.2,53.2 0 1 1 124.1,1.4 Z M 139.6,17.6 A 17.6,17.6 0 1 0 139.7,17.6 Z" fill="#d99a10" fill-rule="evenodd"/>
<path d="M 122.6,-1.0 A 53,53 0 1 1 122.5,-1.0 Z M 138.3,15.6 A 18.8,18.8 0 1 0 138.4,15.6 Z" fill="url(#keyHead)" fill-rule="evenodd"/>
<circle cx="122.6" cy="52" r="49.2" fill="none" stroke="#fad75a" stroke-width="2.2" opacity=".75"/>
<path d="M 72,64 A 52,52 0 0 0 160,88" fill="none" stroke="#cf920f" stroke-width="5" opacity=".45" filter="url(#tBl)"/>
<clipPath id="kh4"><path d="M 122.6,-1.0 A 53,53 0 1 1 122.5,-1.0 Z M 138.3,15.6 A 18.8,18.8 0 1 0 138.4,15.6 Z" clip-rule="evenodd"/></clipPath>
<g clip-path="url(#kh4)"><ellipse cx="105" cy="30" rx="30" ry="18" fill="#fbdc66" opacity=".55" filter="url(#tBl4)" transform="rotate(-30 105 30)"/></g>
</g>
<g transform="translate(859.00,360.00) scale(1.0000)">
<clipPath id="lkc1"><path d="M15.00,-20.4 L15.00,-25 C15.00,-76.22 39.72,-106.30 81.80,-106.30 C123.88,-106.30 148.60,-76.22 148.60,-25.00 L148.60,3 L125.50,3 L125.50,-19 L127.00,-20.5 L128.00,-22.5 L133.50,-26.3 L128.00,-29.8 L128.00,-32 L125.50,-34.5 L124.81,-38.00 C121.44,-68.15 105.92,-85.50 81.55,-85.50 C57.18,-85.50 41.66,-68.15 38.29,-38.00 L30.10,-35 Q28.10,-32.5 29.10,-30.5 L36.60,-28.5 Q38.60,-28 38.60,-26 L38.60,-18.4 Q38.60,-15.899999999999999 34.60,-15.899999999999999 L18.00,-15.899999999999999 Q15.00,-15.899999999999999 15.00,-20.4 Z"/></clipPath>
<path d="M15.00,-20.4 L15.00,-25 C15.00,-76.22 39.72,-106.30 81.80,-106.30 C123.88,-106.30 148.60,-76.22 148.60,-25.00 L148.60,3 L125.50,3 L125.50,-19 L127.00,-20.5 L128.00,-22.5 L133.50,-26.3 L128.00,-29.8 L128.00,-32 L125.50,-34.5 L124.81,-38.00 C121.44,-68.15 105.92,-85.50 81.55,-85.50 C57.18,-85.50 41.66,-68.15 38.29,-38.00 L30.10,-35 Q28.10,-32.5 29.10,-30.5 L36.60,-28.5 Q38.60,-28 38.60,-26 L38.60,-18.4 Q38.60,-15.899999999999999 34.60,-15.899999999999999 L18.00,-15.899999999999999 Q15.00,-15.899999999999999 15.00,-20.4 Z" fill="url(#lkSh)"/>
<g clip-path="url(#lkc1)">
<path d="M18.00,-25 C18.00,-74.33 41.61,-103.30 81.80,-103.30 C121.99,-103.30 145.60,-74.33 145.60,-25.00" fill="none" stroke="#e6eef8" stroke-width="7.5" filter="url(#lkBl)"/>
<path d="M25.42,-12.399999999999999 L25.42,-25 C25.42,-69.04 46.65,-94.90 82.80,-94.90 C118.95,-94.90 140.18,-69.04 140.18,-25.00 L140.18,3" fill="none" stroke="#829bc2" stroke-width="6" opacity="0.85" filter="url(#lkBl)"/>
<path d="M35.30,-12.399999999999999 L35.30,-25 C35.30,-66.27 52.41,-90.50 81.55,-90.50 C110.69,-90.50 127.80,-66.27 127.80,-25.00 L127.80,3 L125.50,3 L125.50,-25 C125.50,-63.12 109.24,-85.50 81.55,-85.50 C53.86,-85.50 37.60,-63.12 37.60,-25.00 L37.60,-12.399999999999999 Z" fill="#8b846a" filter="url(#lkBl3)"/>
<path d="M37.60,-12.399999999999999 L37.60,-25 C37.60,-63.12 53.86,-85.50 81.55,-85.50 C109.24,-85.50 125.50,-63.12 125.50,-25.00 L125.50,3" fill="none" stroke="#5f5a42" stroke-width="1.6" opacity=".5"/>
<path d="M148.60,3 L148.60,-25 C148.60,-76.22 123.88,-106.30 81.80,-106.30" fill="none" stroke="url(#lkEdge)" stroke-width="5" filter="url(#lkBl2)"/>
</g>
<path d="M15.00,-20.4 L15.00,-25 C15.00,-76.22 39.72,-106.30 81.80,-106.30 C123.88,-106.30 148.60,-76.22 148.60,-25.00 L148.60,3 L125.50,3 L125.50,-19 L127.00,-20.5 L128.00,-22.5 L133.50,-26.3 L128.00,-29.8 L128.00,-32 L125.50,-34.5 L124.81,-38.00 C121.44,-68.15 105.92,-85.50 81.55,-85.50 C57.18,-85.50 41.66,-68.15 38.29,-38.00 L30.10,-35 Q28.10,-32.5 29.10,-30.5 L36.60,-28.5 Q38.60,-28 38.60,-26 L38.60,-18.4 Q38.60,-15.899999999999999 34.60,-15.899999999999999 L18.00,-15.899999999999999 Q15.00,-15.899999999999999 15.00,-20.4 Z" fill="none" stroke="#5d6670" stroke-width="1.2" opacity="0.55"/>
<rect x="0.5" y="1.2" width="163" height="116" rx="4" fill="#6b6230" opacity="0.3" filter="url(#lkBl2)"/>
<clipPath id="lkb1"><rect x="0" y="0" width="163" height="116" rx="3.5"/></clipPath>
<g clip-path="url(#lkb1)">
<rect x="0" y="0" width="163" height="116" fill="url(#lkBody)"/>
<rect x="3" y="17" width="155" height="2.2" fill="#e6dc9e" opacity="0.14"/>
<rect x="3" y="19.2" width="155" height="1.6" fill="#8d7f36" opacity="0.08"/>
<rect x="3" y="24.5" width="155" height="2.2" fill="#e6dc9e" opacity="0.2"/>
<rect x="3" y="26.7" width="155" height="1.6" fill="#8d7f36" opacity="0.12"/>
<rect x="3" y="36.5" width="155" height="2.2" fill="#e6dc9e" opacity="0.2"/>
<rect x="3" y="38.7" width="155" height="1.6" fill="#8d7f36" opacity="0.12"/>
<rect x="3" y="48" width="155" height="2.2" fill="#e6dc9e" opacity="0.1"/>
<rect x="3" y="50.2" width="155" height="1.6" fill="#8d7f36" opacity="0.06"/>
<rect x="3" y="59.5" width="155" height="2.2" fill="#e6dc9e" opacity="0.22"/>
<rect x="3" y="61.7" width="155" height="1.6" fill="#8d7f36" opacity="0.13"/>
<rect x="3" y="74" width="155" height="2.2" fill="#e6dc9e" opacity="0.2"/>
<rect x="3" y="76.2" width="155" height="1.6" fill="#8d7f36" opacity="0.12"/>
<rect x="3" y="86" width="155" height="2.2" fill="#e6dc9e" opacity="0.08"/>
<rect x="3" y="88.2" width="155" height="1.6" fill="#8d7f36" opacity="0.05"/>
<rect x="3" y="97.5" width="155" height="2.2" fill="#e6dc9e" opacity="0.2"/>
<rect x="3" y="99.7" width="155" height="1.6" fill="#8d7f36" opacity="0.12"/>
<polygon points="0,0 163,0 158,9 4,9" fill="url(#lkTop)"/>
<polygon points="0,116 163,116 157,105 5,105" fill="url(#lkBot)"/>
<polygon points="0,0 4,9 5,105 0,116" fill="#a29447"/>
<polygon points="163,0 158,9 157,105 163,116" fill="#9b8d42"/>
<rect x="4" y="103.5" width="154" height="2.5" fill="#d0c47c" opacity=".55" filter="url(#lkBl2)"/>
</g>
<rect x="0" y="0" width="163" height="116" rx="3.5" fill="none" stroke="#7d7235" stroke-width="1" opacity=".5"/>
</g>
<text transform="translate(877.75,446) scale(1.041,1)" x="0" y="0" font-size="65">Bob</text>
<g transform="translate(1418.60,658.20) scale(0.9950)">
<clipPath id="lkc2"><path d="M15.00,-20.4 L15.00,-25 C15.00,-76.22 39.72,-106.30 81.80,-106.30 C123.88,-106.30 148.60,-76.22 148.60,-25.00 L148.60,3 L125.50,3 L125.50,-19 L127.00,-20.5 L128.00,-22.5 L133.50,-26.3 L128.00,-29.8 L128.00,-32 L125.50,-34.5 L124.81,-38.00 C121.44,-68.15 105.92,-85.50 81.55,-85.50 C57.18,-85.50 41.66,-68.15 38.29,-38.00 L30.10,-35 Q28.10,-32.5 29.10,-30.5 L36.60,-28.5 Q38.60,-28 38.60,-26 L38.60,-18.4 Q38.60,-15.899999999999999 34.60,-15.899999999999999 L18.00,-15.899999999999999 Q15.00,-15.899999999999999 15.00,-20.4 Z"/></clipPath>
<path d="M15.00,-20.4 L15.00,-25 C15.00,-76.22 39.72,-106.30 81.80,-106.30 C123.88,-106.30 148.60,-76.22 148.60,-25.00 L148.60,3 L125.50,3 L125.50,-19 L127.00,-20.5 L128.00,-22.5 L133.50,-26.3 L128.00,-29.8 L128.00,-32 L125.50,-34.5 L124.81,-38.00 C121.44,-68.15 105.92,-85.50 81.55,-85.50 C57.18,-85.50 41.66,-68.15 38.29,-38.00 L30.10,-35 Q28.10,-32.5 29.10,-30.5 L36.60,-28.5 Q38.60,-28 38.60,-26 L38.60,-18.4 Q38.60,-15.899999999999999 34.60,-15.899999999999999 L18.00,-15.899999999999999 Q15.00,-15.899999999999999 15.00,-20.4 Z" fill="url(#lkSh)"/>
<g clip-path="url(#lkc2)">
<path d="M18.00,-25 C18.00,-74.33 41.61,-103.30 81.80,-103.30 C121.99,-103.30 145.60,-74.33 145.60,-25.00" fill="none" stroke="#e6eef8" stroke-width="7.5" filter="url(#lkBl)"/>
<path d="M25.42,-12.399999999999999 L25.42,-25 C25.42,-69.04 46.65,-94.90 82.80,-94.90 C118.95,-94.90 140.18,-69.04 140.18,-25.00 L140.18,3" fill="none" stroke="#829bc2" stroke-width="6" opacity="0.85" filter="url(#lkBl)"/>
<path d="M35.30,-12.399999999999999 L35.30,-25 C35.30,-66.27 52.41,-90.50 81.55,-90.50 C110.69,-90.50 127.80,-66.27 127.80,-25.00 L127.80,3 L125.50,3 L125.50,-25 C125.50,-63.12 109.24,-85.50 81.55,-85.50 C53.86,-85.50 37.60,-63.12 37.60,-25.00 L37.60,-12.399999999999999 Z" fill="#8b846a" filter="url(#lkBl3)"/>
<path d="M37.60,-12.399999999999999 L37.60,-25 C37.60,-63.12 53.86,-85.50 81.55,-85.50 C109.24,-85.50 125.50,-63.12 125.50,-25.00 L125.50,3" fill="none" stroke="#5f5a42" stroke-width="1.6" opacity=".5"/>
<path d="M148.60,3 L148.60,-25 C148.60,-76.22 123.88,-106.30 81.80,-106.30" fill="none" stroke="url(#lkEdge)" stroke-width="5" filter="url(#lkBl2)"/>
</g>
<path d="M15.00,-20.4 L15.00,-25 C15.00,-76.22 39.72,-106.30 81.80,-106.30 C123.88,-106.30 148.60,-76.22 148.60,-25.00 L148.60,3 L125.50,3 L125.50,-19 L127.00,-20.5 L128.00,-22.5 L133.50,-26.3 L128.00,-29.8 L128.00,-32 L125.50,-34.5 L124.81,-38.00 C121.44,-68.15 105.92,-85.50 81.55,-85.50 C57.18,-85.50 41.66,-68.15 38.29,-38.00 L30.10,-35 Q28.10,-32.5 29.10,-30.5 L36.60,-28.5 Q38.60,-28 38.60,-26 L38.60,-18.4 Q38.60,-15.899999999999999 34.60,-15.899999999999999 L18.00,-15.899999999999999 Q15.00,-15.899999999999999 15.00,-20.4 Z" fill="none" stroke="#5d6670" stroke-width="1.2" opacity="0.55"/>
<rect x="0.5" y="1.2" width="163" height="116" rx="4" fill="#6b6230" opacity="0.3" filter="url(#lkBl2)"/>
<clipPath id="lkb2"><rect x="0" y="0" width="163" height="116" rx="3.5"/></clipPath>
<g clip-path="url(#lkb2)">
<rect x="0" y="0" width="163" height="116" fill="url(#lkBody)"/>
<rect x="3" y="17" width="155" height="2.2" fill="#e6dc9e" opacity="0.14"/>
<rect x="3" y="19.2" width="155" height="1.6" fill="#8d7f36" opacity="0.08"/>
<rect x="3" y="24.5" width="155" height="2.2" fill="#e6dc9e" opacity="0.2"/>
<rect x="3" y="26.7" width="155" height="1.6" fill="#8d7f36" opacity="0.12"/>
<rect x="3" y="36.5" width="155" height="2.2" fill="#e6dc9e" opacity="0.2"/>
<rect x="3" y="38.7" width="155" height="1.6" fill="#8d7f36" opacity="0.12"/>
<rect x="3" y="48" width="155" height="2.2" fill="#e6dc9e" opacity="0.1"/>
<rect x="3" y="50.2" width="155" height="1.6" fill="#8d7f36" opacity="0.06"/>
<rect x="3" y="59.5" width="155" height="2.2" fill="#e6dc9e" opacity="0.22"/>
<rect x="3" y="61.7" width="155" height="1.6" fill="#8d7f36" opacity="0.13"/>
<rect x="3" y="74" width="155" height="2.2" fill="#e6dc9e" opacity="0.2"/>
<rect x="3" y="76.2" width="155" height="1.6" fill="#8d7f36" opacity="0.12"/>
<rect x="3" y="86" width="155" height="2.2" fill="#e6dc9e" opacity="0.08"/>
<rect x="3" y="88.2" width="155" height="1.6" fill="#8d7f36" opacity="0.05"/>
<rect x="3" y="97.5" width="155" height="2.2" fill="#e6dc9e" opacity="0.2"/>
<rect x="3" y="99.7" width="155" height="1.6" fill="#8d7f36" opacity="0.12"/>
<polygon points="0,0 163,0 158,9 4,9" fill="url(#lkTop)"/>
<polygon points="0,116 163,116 157,105 5,105" fill="url(#lkBot)"/>
<polygon points="0,0 4,9 5,105 0,116" fill="#a29447"/>
<polygon points="163,0 158,9 157,105 163,116" fill="#9b8d42"/>
<rect x="4" y="103.5" width="154" height="2.5" fill="#d0c47c" opacity=".55" filter="url(#lkBl2)"/>
</g>
<rect x="0" y="0" width="163" height="116" rx="3.5" fill="none" stroke="#7d7235" stroke-width="1" opacity=".5"/>
</g>
<text transform="translate(1434.75,744.1) scale(1.041,1)" x="0" y="0" font-size="65">Bob</text>
<g transform="translate(75.20,306.00) scale(0.3325)">
<clipPath id="lkc3"><path d="M15.00,-20.4 L15.00,-25 C15.00,-76.22 39.72,-106.30 81.80,-106.30 C123.88,-106.30 148.60,-76.22 148.60,-25.00 L148.60,3 L125.50,3 L125.50,-19 L127.00,-20.5 L128.00,-22.5 L133.50,-26.3 L128.00,-29.8 L128.00,-32 L125.50,-34.5 L124.81,-38.00 C121.44,-68.15 105.92,-85.50 81.55,-85.50 C57.18,-85.50 41.66,-68.15 38.29,-38.00 L30.10,-35 Q28.10,-32.5 29.10,-30.5 L36.60,-28.5 Q38.60,-28 38.60,-26 L38.60,-18.4 Q38.60,-15.899999999999999 34.60,-15.899999999999999 L18.00,-15.899999999999999 Q15.00,-15.899999999999999 15.00,-20.4 Z"/></clipPath>
<path d="M15.00,-20.4 L15.00,-25 C15.00,-76.22 39.72,-106.30 81.80,-106.30 C123.88,-106.30 148.60,-76.22 148.60,-25.00 L148.60,3 L125.50,3 L125.50,-19 L127.00,-20.5 L128.00,-22.5 L133.50,-26.3 L128.00,-29.8 L128.00,-32 L125.50,-34.5 L124.81,-38.00 C121.44,-68.15 105.92,-85.50 81.55,-85.50 C57.18,-85.50 41.66,-68.15 38.29,-38.00 L30.10,-35 Q28.10,-32.5 29.10,-30.5 L36.60,-28.5 Q38.60,-28 38.60,-26 L38.60,-18.4 Q38.60,-15.899999999999999 34.60,-15.899999999999999 L18.00,-15.899999999999999 Q15.00,-15.899999999999999 15.00,-20.4 Z" fill="url(#lkSh)"/>
<g clip-path="url(#lkc3)">
<path d="M18.00,-25 C18.00,-74.33 41.61,-103.30 81.80,-103.30 C121.99,-103.30 145.60,-74.33 145.60,-25.00" fill="none" stroke="#e6eef8" stroke-width="7.5" filter="url(#lkBl)"/>
<path d="M25.42,-12.399999999999999 L25.42,-25 C25.42,-69.04 46.65,-94.90 82.80,-94.90 C118.95,-94.90 140.18,-69.04 140.18,-25.00 L140.18,3" fill="none" stroke="#829bc2" stroke-width="6" opacity="0.85" filter="url(#lkBl)"/>
<path d="M35.30,-12.399999999999999 L35.30,-25 C35.30,-66.27 52.41,-90.50 81.55,-90.50 C110.69,-90.50 127.80,-66.27 127.80,-25.00 L127.80,3 L125.50,3 L125.50,-25 C125.50,-63.12 109.24,-85.50 81.55,-85.50 C53.86,-85.50 37.60,-63.12 37.60,-25.00 L37.60,-12.399999999999999 Z" fill="#8b846a" filter="url(#lkBl3)"/>
<path d="M37.60,-12.399999999999999 L37.60,-25 C37.60,-63.12 53.86,-85.50 81.55,-85.50 C109.24,-85.50 125.50,-63.12 125.50,-25.00 L125.50,3" fill="none" stroke="#5f5a42" stroke-width="1.6" opacity=".5"/>
<path d="M148.60,3 L148.60,-25 C148.60,-76.22 123.88,-106.30 81.80,-106.30" fill="none" stroke="url(#lkEdge)" stroke-width="5" filter="url(#lkBl2)"/>
</g>
<path d="M15.00,-20.4 L15.00,-25 C15.00,-76.22 39.72,-106.30 81.80,-106.30 C123.88,-106.30 148.60,-76.22 148.60,-25.00 L148.60,3 L125.50,3 L125.50,-19 L127.00,-20.5 L128.00,-22.5 L133.50,-26.3 L128.00,-29.8 L128.00,-32 L125.50,-34.5 L124.81,-38.00 C121.44,-68.15 105.92,-85.50 81.55,-85.50 C57.18,-85.50 41.66,-68.15 38.29,-38.00 L30.10,-35 Q28.10,-32.5 29.10,-30.5 L36.60,-28.5 Q38.60,-28 38.60,-26 L38.60,-18.4 Q38.60,-15.899999999999999 34.60,-15.899999999999999 L18.00,-15.899999999999999 Q15.00,-15.899999999999999 15.00,-20.4 Z" fill="none" stroke="#5d6670" stroke-width="1.2" opacity="0.55"/>
<rect x="0.5" y="1.2" width="163" height="116" rx="4" fill="#6b6230" opacity="0.3" filter="url(#lkBl2)"/>
<clipPath id="lkb3"><rect x="0" y="0" width="163" height="116" rx="3.5"/></clipPath>
<g clip-path="url(#lkb3)">
<rect x="0" y="0" width="163" height="116" fill="url(#lkBody)"/>
<rect x="3" y="17" width="155" height="2.2" fill="#e6dc9e" opacity="0.14"/>
<rect x="3" y="19.2" width="155" height="1.6" fill="#8d7f36" opacity="0.08"/>
<rect x="3" y="24.5" width="155" height="2.2" fill="#e6dc9e" opacity="0.2"/>
<rect x="3" y="26.7" width="155" height="1.6" fill="#8d7f36" opacity="0.12"/>
<rect x="3" y="36.5" width="155" height="2.2" fill="#e6dc9e" opacity="0.2"/>
<rect x="3" y="38.7" width="155" height="1.6" fill="#8d7f36" opacity="0.12"/>
<rect x="3" y="48" width="155" height="2.2" fill="#e6dc9e" opacity="0.1"/>
<rect x="3" y="50.2" width="155" height="1.6" fill="#8d7f36" opacity="0.06"/>
<rect x="3" y="59.5" width="155" height="2.2" fill="#e6dc9e" opacity="0.22"/>
<rect x="3" y="61.7" width="155" height="1.6" fill="#8d7f36" opacity="0.13"/>
<rect x="3" y="74" width="155" height="2.2" fill="#e6dc9e" opacity="0.2"/>
<rect x="3" y="76.2" width="155" height="1.6" fill="#8d7f36" opacity="0.12"/>
<rect x="3" y="86" width="155" height="2.2" fill="#e6dc9e" opacity="0.08"/>
<rect x="3" y="88.2" width="155" height="1.6" fill="#8d7f36" opacity="0.05"/>
<rect x="3" y="97.5" width="155" height="2.2" fill="#e6dc9e" opacity="0.2"/>
<rect x="3" y="99.7" width="155" height="1.6" fill="#8d7f36" opacity="0.12"/>
<polygon points="0,0 163,0 158,9 4,9" fill="url(#lkTop)"/>
<polygon points="0,116 163,116 157,105 5,105" fill="url(#lkBot)"/>
<polygon points="0,0 4,9 5,105 0,116" fill="#a29447"/>
<polygon points="163,0 158,9 157,105 163,116" fill="#9b8d42"/>
<rect x="4" y="103.5" width="154" height="2.5" fill="#d0c47c" opacity=".55" filter="url(#lkBl2)"/>
</g>
<rect x="0" y="0" width="163" height="116" rx="3.5" fill="none" stroke="#7d7235" stroke-width="1" opacity=".5"/>
</g>
<g transform="translate(1683.30,1141.40) scale(0.6577)">
<clipPath id="lkc4"><path d="M15.70,3 L15.70,-1.4 C15.70,-52.62 40.14,-82.70 81.75,-82.70 C123.36,-82.70 147.80,-52.62 147.80,-1.40 L147.80,3 L125.85,3 L125.85,-1.4 C125.85,-40.96 109.27,-64.20 81.05,-64.20 C52.83,-64.20 36.25,-40.96 36.25,-1.40 L36.25,3 Z"/></clipPath>
<path d="M15.70,3 L15.70,-1.4 C15.70,-52.62 40.14,-82.70 81.75,-82.70 C123.36,-82.70 147.80,-52.62 147.80,-1.40 L147.80,3 L125.85,3 L125.85,-1.4 C125.85,-40.96 109.27,-64.20 81.05,-64.20 C52.83,-64.20 36.25,-40.96 36.25,-1.40 L36.25,3 Z" fill="url(#lkSh)"/>
<g clip-path="url(#lkc4)">
<path d="M18.70,-1.4 C18.70,-50.73 42.03,-79.70 81.75,-79.70 C121.47,-79.70 144.80,-50.73 144.80,-1.40" fill="none" stroke="#e6eef8" stroke-width="7.5" filter="url(#lkBl)"/>
<path d="M25.33,9 L25.33,-1.4 C25.33,-46.16 46.57,-72.45 82.75,-72.45 C118.93,-72.45 140.18,-46.16 140.18,-1.40 L140.18,3" fill="none" stroke="#829bc2" stroke-width="6" opacity="0.85" filter="url(#lkBl)"/>
<path d="M33.95,9 L33.95,-1.4 C33.95,-44.11 51.38,-69.20 81.05,-69.20 C110.72,-69.20 128.15,-44.11 128.15,-1.40 L128.15,3 L125.85,3 L125.85,-1.4 C125.85,-40.96 109.27,-64.20 81.05,-64.20 C52.83,-64.20 36.25,-40.96 36.25,-1.40 L36.25,9 Z" fill="#8b846a" filter="url(#lkBl3)"/>
<path d="M36.25,9 L36.25,-1.4 C36.25,-40.96 52.83,-64.20 81.05,-64.20 C109.27,-64.20 125.85,-40.96 125.85,-1.40 L125.85,3" fill="none" stroke="#5f5a42" stroke-width="1.6" opacity=".5"/>
<path d="M147.80,3 L147.80,-1.4 C147.80,-52.62 123.36,-82.70 81.75,-82.70" fill="none" stroke="url(#lkEdge)" stroke-width="5" filter="url(#lkBl2)"/>
</g>
<path d="M15.70,3 L15.70,-1.4 C15.70,-52.62 40.14,-82.70 81.75,-82.70 C123.36,-82.70 147.80,-52.62 147.80,-1.40 L147.80,3 L125.85,3 L125.85,-1.4 C125.85,-40.96 109.27,-64.20 81.05,-64.20 C52.83,-64.20 36.25,-40.96 36.25,-1.40 L36.25,3 Z" fill="none" stroke="#5d6670" stroke-width="1.2" opacity="0.55"/>
<rect x="0.5" y="1.2" width="163" height="116" rx="4" fill="#6b6230" opacity="0.3" filter="url(#lkBl2)"/>
<clipPath id="lkb4"><rect x="0" y="0" width="163" height="116" rx="3.5"/></clipPath>
<g clip-path="url(#lkb4)">
<rect x="0" y="0" width="163" height="116" fill="url(#lkBody)"/>
<rect x="3" y="17" width="155" height="2.2" fill="#e6dc9e" opacity="0.14"/>
<rect x="3" y="19.2" width="155" height="1.6" fill="#8d7f36" opacity="0.08"/>
<rect x="3" y="24.5" width="155" height="2.2" fill="#e6dc9e" opacity="0.2"/>
<rect x="3" y="26.7" width="155" height="1.6" fill="#8d7f36" opacity="0.12"/>
<rect x="3" y="36.5" width="155" height="2.2" fill="#e6dc9e" opacity="0.2"/>
<rect x="3" y="38.7" width="155" height="1.6" fill="#8d7f36" opacity="0.12"/>
<rect x="3" y="48" width="155" height="2.2" fill="#e6dc9e" opacity="0.1"/>
<rect x="3" y="50.2" width="155" height="1.6" fill="#8d7f36" opacity="0.06"/>
<rect x="3" y="59.5" width="155" height="2.2" fill="#e6dc9e" opacity="0.22"/>
<rect x="3" y="61.7" width="155" height="1.6" fill="#8d7f36" opacity="0.13"/>
<rect x="3" y="74" width="155" height="2.2" fill="#e6dc9e" opacity="0.2"/>
<rect x="3" y="76.2" width="155" height="1.6" fill="#8d7f36" opacity="0.12"/>
<rect x="3" y="86" width="155" height="2.2" fill="#e6dc9e" opacity="0.08"/>
<rect x="3" y="88.2" width="155" height="1.6" fill="#8d7f36" opacity="0.05"/>
<rect x="3" y="97.5" width="155" height="2.2" fill="#e6dc9e" opacity="0.2"/>
<rect x="3" y="99.7" width="155" height="1.6" fill="#8d7f36" opacity="0.12"/>
<polygon points="0,0 163,0 158,9 4,9" fill="url(#lkTop)"/>
<polygon points="0,116 163,116 157,105 5,105" fill="url(#lkBot)"/>
<polygon points="0,0 4,9 5,105 0,116" fill="#a29447"/>
<polygon points="163,0 158,9 157,105 163,116" fill="#9b8d42"/>
<rect x="4" y="103.5" width="154" height="2.5" fill="#d0c47c" opacity=".55" filter="url(#lkBl2)"/>
</g>
<rect x="0" y="0" width="163" height="116" rx="3.5" fill="none" stroke="#7d7235" stroke-width="1" opacity=".5"/>
</g>
<text transform="translate(1699.86,1192.5) scale(1.041,1)" x="0" y="0" font-size="42.6">Bob</text>
<g transform="translate(1030.50,1162.80) scale(0.6550)">
<clipPath id="lkc5"><path d="M15.70,3 L15.70,-1.4 C15.70,-52.62 40.14,-82.70 81.75,-82.70 C123.36,-82.70 147.80,-52.62 147.80,-1.40 L147.80,3 L125.85,3 L125.85,-1.4 C125.85,-40.96 109.27,-64.20 81.05,-64.20 C52.83,-64.20 36.25,-40.96 36.25,-1.40 L36.25,3 Z"/></clipPath>
<path d="M15.70,3 L15.70,-1.4 C15.70,-52.62 40.14,-82.70 81.75,-82.70 C123.36,-82.70 147.80,-52.62 147.80,-1.40 L147.80,3 L125.85,3 L125.85,-1.4 C125.85,-40.96 109.27,-64.20 81.05,-64.20 C52.83,-64.20 36.25,-40.96 36.25,-1.40 L36.25,3 Z" fill="url(#lkSh)"/>
<g clip-path="url(#lkc5)">
<path d="M18.70,-1.4 C18.70,-50.73 42.03,-79.70 81.75,-79.70 C121.47,-79.70 144.80,-50.73 144.80,-1.40" fill="none" stroke="#e6eef8" stroke-width="7.5" filter="url(#lkBl)"/>
<path d="M25.33,9 L25.33,-1.4 C25.33,-46.16 46.57,-72.45 82.75,-72.45 C118.93,-72.45 140.18,-46.16 140.18,-1.40 L140.18,3" fill="none" stroke="#829bc2" stroke-width="6" opacity="0.85" filter="url(#lkBl)"/>
<path d="M33.95,9 L33.95,-1.4 C33.95,-44.11 51.38,-69.20 81.05,-69.20 C110.72,-69.20 128.15,-44.11 128.15,-1.40 L128.15,3 L125.85,3 L125.85,-1.4 C125.85,-40.96 109.27,-64.20 81.05,-64.20 C52.83,-64.20 36.25,-40.96 36.25,-1.40 L36.25,9 Z" fill="#8b846a" filter="url(#lkBl3)"/>
<path d="M36.25,9 L36.25,-1.4 C36.25,-40.96 52.83,-64.20 81.05,-64.20 C109.27,-64.20 125.85,-40.96 125.85,-1.40 L125.85,3" fill="none" stroke="#5f5a42" stroke-width="1.6" opacity=".5"/>
<path d="M147.80,3 L147.80,-1.4 C147.80,-52.62 123.36,-82.70 81.75,-82.70" fill="none" stroke="url(#lkEdge)" stroke-width="5" filter="url(#lkBl2)"/>
</g>
<path d="M15.70,3 L15.70,-1.4 C15.70,-52.62 40.14,-82.70 81.75,-82.70 C123.36,-82.70 147.80,-52.62 147.80,-1.40 L147.80,3 L125.85,3 L125.85,-1.4 C125.85,-40.96 109.27,-64.20 81.05,-64.20 C52.83,-64.20 36.25,-40.96 36.25,-1.40 L36.25,3 Z" fill="none" stroke="#5d6670" stroke-width="1.2" opacity="0.55"/>
<rect x="0.5" y="1.2" width="163" height="116" rx="4" fill="#6b6230" opacity="0.3" filter="url(#lkBl2)"/>
<clipPath id="lkb5"><rect x="0" y="0" width="163" height="116" rx="3.5"/></clipPath>
<g clip-path="url(#lkb5)">
<rect x="0" y="0" width="163" height="116" fill="url(#lkBody)"/>
<rect x="3" y="17" width="155" height="2.2" fill="#e6dc9e" opacity="0.14"/>
<rect x="3" y="19.2" width="155" height="1.6" fill="#8d7f36" opacity="0.08"/>
<rect x="3" y="24.5" width="155" height="2.2" fill="#e6dc9e" opacity="0.2"/>
<rect x="3" y="26.7" width="155" height="1.6" fill="#8d7f36" opacity="0.12"/>
<rect x="3" y="36.5" width="155" height="2.2" fill="#e6dc9e" opacity="0.2"/>
<rect x="3" y="38.7" width="155" height="1.6" fill="#8d7f36" opacity="0.12"/>
<rect x="3" y="48" width="155" height="2.2" fill="#e6dc9e" opacity="0.1"/>
<rect x="3" y="50.2" width="155" height="1.6" fill="#8d7f36" opacity="0.06"/>
<rect x="3" y="59.5" width="155" height="2.2" fill="#e6dc9e" opacity="0.22"/>
<rect x="3" y="61.7" width="155" height="1.6" fill="#8d7f36" opacity="0.13"/>
<rect x="3" y="74" width="155" height="2.2" fill="#e6dc9e" opacity="0.2"/>
<rect x="3" y="76.2" width="155" height="1.6" fill="#8d7f36" opacity="0.12"/>
<rect x="3" y="86" width="155" height="2.2" fill="#e6dc9e" opacity="0.08"/>
<rect x="3" y="88.2" width="155" height="1.6" fill="#8d7f36" opacity="0.05"/>
<rect x="3" y="97.5" width="155" height="2.2" fill="#e6dc9e" opacity="0.2"/>
<rect x="3" y="99.7" width="155" height="1.6" fill="#8d7f36" opacity="0.12"/>
<polygon points="0,0 163,0 158,9 4,9" fill="url(#lkTop)"/>
<polygon points="0,116 163,116 157,105 5,105" fill="url(#lkBot)"/>
<polygon points="0,0 4,9 5,105 0,116" fill="#a29447"/>
<polygon points="163,0 158,9 157,105 163,116" fill="#9b8d42"/>
<rect x="4" y="103.5" width="154" height="2.5" fill="#d0c47c" opacity=".55" filter="url(#lkBl2)"/>
</g>
<rect x="0" y="0" width="163" height="116" rx="3.5" fill="none" stroke="#7d7235" stroke-width="1" opacity=".5"/>
</g>
<text transform="translate(1045.46,1214.3) scale(1.041,1)" x="0" y="0" font-size="42.6">Bob</text>
<g transform="translate(182.90,1132.20) scale(0.6540)">
<clipPath id="lkc6"><path d="M15.70,3 L15.70,-1.4 C15.70,-52.62 40.14,-82.70 81.75,-82.70 C123.36,-82.70 147.80,-52.62 147.80,-1.40 L147.80,3 L125.85,3 L125.85,-1.4 C125.85,-40.96 109.27,-64.20 81.05,-64.20 C52.83,-64.20 36.25,-40.96 36.25,-1.40 L36.25,3 Z"/></clipPath>
<path d="M15.70,3 L15.70,-1.4 C15.70,-52.62 40.14,-82.70 81.75,-82.70 C123.36,-82.70 147.80,-52.62 147.80,-1.40 L147.80,3 L125.85,3 L125.85,-1.4 C125.85,-40.96 109.27,-64.20 81.05,-64.20 C52.83,-64.20 36.25,-40.96 36.25,-1.40 L36.25,3 Z" fill="url(#lkSh)"/>
<g clip-path="url(#lkc6)">
<path d="M18.70,-1.4 C18.70,-50.73 42.03,-79.70 81.75,-79.70 C121.47,-79.70 144.80,-50.73 144.80,-1.40" fill="none" stroke="#e6eef8" stroke-width="7.5" filter="url(#lkBl)"/>
<path d="M25.33,9 L25.33,-1.4 C25.33,-46.16 46.57,-72.45 82.75,-72.45 C118.93,-72.45 140.18,-46.16 140.18,-1.40 L140.18,3" fill="none" stroke="#829bc2" stroke-width="6" opacity="0.85" filter="url(#lkBl)"/>
<path d="M33.95,9 L33.95,-1.4 C33.95,-44.11 51.38,-69.20 81.05,-69.20 C110.72,-69.20 128.15,-44.11 128.15,-1.40 L128.15,3 L125.85,3 L125.85,-1.4 C125.85,-40.96 109.27,-64.20 81.05,-64.20 C52.83,-64.20 36.25,-40.96 36.25,-1.40 L36.25,9 Z" fill="#8b846a" filter="url(#lkBl3)"/>
<path d="M36.25,9 L36.25,-1.4 C36.25,-40.96 52.83,-64.20 81.05,-64.20 C109.27,-64.20 125.85,-40.96 125.85,-1.40 L125.85,3" fill="none" stroke="#5f5a42" stroke-width="1.6" opacity=".5"/>
<path d="M147.80,3 L147.80,-1.4 C147.80,-52.62 123.36,-82.70 81.75,-82.70" fill="none" stroke="url(#lkEdge)" stroke-width="5" filter="url(#lkBl2)"/>
</g>
<path d="M15.70,3 L15.70,-1.4 C15.70,-52.62 40.14,-82.70 81.75,-82.70 C123.36,-82.70 147.80,-52.62 147.80,-1.40 L147.80,3 L125.85,3 L125.85,-1.4 C125.85,-40.96 109.27,-64.20 81.05,-64.20 C52.83,-64.20 36.25,-40.96 36.25,-1.40 L36.25,3 Z" fill="none" stroke="#5d6670" stroke-width="1.2" opacity="0.55"/>
<rect x="0.5" y="1.2" width="163" height="116" rx="4" fill="#6b6230" opacity="0.3" filter="url(#lkBl2)"/>
<clipPath id="lkb6"><rect x="0" y="0" width="163" height="116" rx="3.5"/></clipPath>
<g clip-path="url(#lkb6)">
<rect x="0" y="0" width="163" height="116" fill="url(#lkBody)"/>
<rect x="3" y="17" width="155" height="2.2" fill="#e6dc9e" opacity="0.14"/>
<rect x="3" y="19.2" width="155" height="1.6" fill="#8d7f36" opacity="0.08"/>
<rect x="3" y="24.5" width="155" height="2.2" fill="#e6dc9e" opacity="0.2"/>
<rect x="3" y="26.7" width="155" height="1.6" fill="#8d7f36" opacity="0.12"/>
<rect x="3" y="36.5" width="155" height="2.2" fill="#e6dc9e" opacity="0.2"/>
<rect x="3" y="38.7" width="155" height="1.6" fill="#8d7f36" opacity="0.12"/>
<rect x="3" y="48" width="155" height="2.2" fill="#e6dc9e" opacity="0.1"/>
<rect x="3" y="50.2" width="155" height="1.6" fill="#8d7f36" opacity="0.06"/>
<rect x="3" y="59.5" width="155" height="2.2" fill="#e6dc9e" opacity="0.22"/>
<rect x="3" y="61.7" width="155" height="1.6" fill="#8d7f36" opacity="0.13"/>
<rect x="3" y="74" width="155" height="2.2" fill="#e6dc9e" opacity="0.2"/>
<rect x="3" y="76.2" width="155" height="1.6" fill="#8d7f36" opacity="0.12"/>
<rect x="3" y="86" width="155" height="2.2" fill="#e6dc9e" opacity="0.08"/>
<rect x="3" y="88.2" width="155" height="1.6" fill="#8d7f36" opacity="0.05"/>
<rect x="3" y="97.5" width="155" height="2.2" fill="#e6dc9e" opacity="0.2"/>
<rect x="3" y="99.7" width="155" height="1.6" fill="#8d7f36" opacity="0.12"/>
<polygon points="0,0 163,0 158,9 4,9" fill="url(#lkTop)"/>
<polygon points="0,116 163,116 157,105 5,105" fill="url(#lkBot)"/>
<polygon points="0,0 4,9 5,105 0,116" fill="#a29447"/>
<polygon points="163,0 158,9 157,105 163,116" fill="#9b8d42"/>
<rect x="4" y="103.5" width="154" height="2.5" fill="#d0c47c" opacity=".55" filter="url(#lkBl2)"/>
</g>
<rect x="0" y="0" width="163" height="116" rx="3.5" fill="none" stroke="#7d7235" stroke-width="1" opacity=".5"/>
</g>
<text transform="translate(198.46,1184.9) scale(1.041,1)" x="0" y="0" font-size="42.6">Bob</text>
</svg>
</body></html>
